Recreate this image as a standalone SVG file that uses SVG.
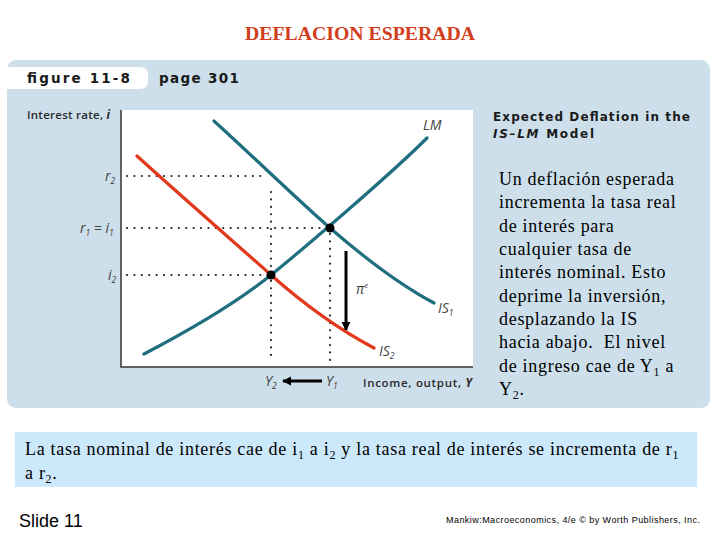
<svg xmlns="http://www.w3.org/2000/svg" width="720" height="540" viewBox="0 0 720 540">
<defs>
<style>
.curveT{fill:none;stroke:#1f6f80;stroke-width:3.2;stroke-linecap:round}
.curveR{fill:none;stroke:#e2391d;stroke-width:3.2;stroke-linecap:round}
.dot{fill:none;stroke:#222;stroke-width:2.1;stroke-dasharray:0.1 7.3;stroke-linecap:round}
.lab{font-family:"Open Sans","Liberation Sans",sans-serif;font-size:14px;font-style:italic;fill:#444}
.sub{font-size:8.5px}
.axl{font-family:"Open Sans","Liberation Sans",sans-serif;font-size:11.5px;font-weight:600;fill:#2a2a2a}
.tim{font-family:"Liberation Serif","Times New Roman",serif;font-size:18px;fill:#000;letter-spacing:0.7px}
.hd{font-family:"DejaVu Sans","Liberation Sans",sans-serif;font-weight:bold;fill:#1a1a1a}
</style>
<marker id="ah" viewBox="0 0 10 10" refX="9" refY="5" markerWidth="3" markerHeight="3.2" orient="auto" markerUnits="strokeWidth">
<path d="M0,0 L10,5 L0,10 Z" fill="#000"/>
</marker>
</defs>
<rect width="720" height="540" fill="#fff"/>
<text x="360" y="40" text-anchor="middle" font-family="Liberation Serif,'Times New Roman',serif" font-weight="bold" font-size="19" fill="#d23d1c" textLength="230" lengthAdjust="spacingAndGlyphs">DEFLACION ESPERADA</text>

<g id="panel">
<rect x="7" y="60" width="703" height="348" rx="9" fill="#cddfeb"/>
<path d="M7,67 H140 Q148,67 148,75 V81 Q148,89 140,89 H7 Z" fill="#fff"/>
<text class="hd" x="27" y="83" font-size="13.5" textLength="103" lengthAdjust="spacing">figure 11-8</text>
<text class="hd" x="159" y="83" font-size="13.5" textLength="80" lengthAdjust="spacing">page 301</text>
<rect x="121" y="110" width="352" height="257" fill="#fff"/>
<text class="hd" x="493" y="121" font-size="12" fill="#333" textLength="197" lengthAdjust="spacing">Expected Deflation in the</text>
<text class="hd" x="493" y="138" font-size="12" fill="#333" textLength="101" lengthAdjust="spacing"><tspan font-style="italic">IS–LM</tspan> Model</text>
</g>

<g id="axes">
<path d="M121,110 V367 H473" fill="none" stroke="#333" stroke-width="1.5"/>
<text class="axl" x="27" y="119" textLength="83">Interest rate, <tspan font-style="italic" font-weight="bold">i</tspan></text>
<text class="axl" x="363" y="387" textLength="109">Income, output, <tspan font-style="italic" font-weight="bold">Y</tspan></text>
</g>

<g id="guides">
<path class="dot" d="M127,176 H263"/>
<path class="dot" d="M127,228 H326"/>
<path class="dot" d="M127,275 H268"/>
<path class="dot" d="M271,192 V362"/>
<path class="dot" d="M330,234 V362"/>
</g>

<g id="LM">
<path class="curveT" d="M144,354 C190,330 240,300 271,275 S390,175 427,138"/>
<text class="lab" x="423" y="130">LM</text>
</g>
<g id="IS1">
<path class="curveT" d="M214,121 C260,163 300,202 330,228 S400,285 434,303"/>
<text class="lab" x="438" y="313">IS<tspan class="sub" dy="3">1</tspan></text>
</g>
<g id="IS2">
<path class="curveR" d="M137,156 C180,195 235,243 271,275 S340,330 374,348"/>
<text class="lab" x="379" y="356">IS<tspan class="sub" dy="3">2</tspan></text>
</g>

<g id="points">
<circle cx="330" cy="228" r="4.5" fill="#000"/>
<circle cx="271" cy="275" r="4.5" fill="#000"/>
</g>

<g id="connectors">
<line x1="346" y1="251" x2="346" y2="330" stroke="#000" stroke-width="3" marker-end="url(#ah)"/>
<line x1="322" y1="381" x2="283" y2="381" stroke="#000" stroke-width="3" marker-end="url(#ah)"/>
</g>

<g id="labels">
<text class="lab" x="356" y="294" font-size="14">π<tspan font-size="7" dy="-6">e</tspan></text>
<text class="lab" x="105" y="181">r<tspan class="sub" dy="3">2</tspan></text>
<text class="lab" x="80" y="233">r<tspan class="sub" dy="3">1</tspan><tspan dy="-3"> = i</tspan><tspan class="sub" dy="3">1</tspan></text>
<text class="lab" x="108" y="280">i<tspan class="sub" dy="3">2</tspan></text>
<text class="lab" x="265" y="386">Y<tspan class="sub" dy="3">2</tspan></text>
<text class="lab" x="326" y="386">Y<tspan class="sub" dy="3">1</tspan></text>
</g>

<g id="note">
<text class="tim" x="499" y="185">Un deflación esperada</text>
<text class="tim" x="499" y="208.3">incrementa la tasa real</text>
<text class="tim" x="499" y="231.7">de interés para</text>
<text class="tim" x="499" y="255">cualquier tasa de</text>
<text class="tim" x="499" y="278.3">interés nominal. Esto</text>
<text class="tim" x="499" y="301.7">deprime la inversión,</text>
<text class="tim" x="499" y="325">desplazando la IS</text>
<text class="tim" x="499" y="348.3" xml:space="preserve">hacia abajo.  El nivel</text>
<text class="tim" x="499" y="371.7" xml:space="preserve">de ingreso cae de Y<tspan font-size="12" dy="4">1</tspan><tspan dy="-4"> a</tspan></text>
<text class="tim" x="499" y="395">Y<tspan font-size="12" dy="4">2</tspan><tspan dy="-4">.</tspan></text>
</g>

<g id="summary">
<rect x="15" y="432" width="682" height="55" fill="#cce9fb"/>
<text class="tim" x="25" y="455">La tasa nominal de interés cae de i<tspan font-size="12" dy="4">1</tspan><tspan dy="-4"> a i</tspan><tspan font-size="12" dy="4">2</tspan><tspan dy="-4"> y la tasa real de interés se incrementa de r</tspan><tspan font-size="12" dy="4">1</tspan></text>
<text class="tim" x="25" y="479">a r<tspan font-size="12" dy="4">2</tspan><tspan dy="-4">.</tspan></text>
</g>

<g id="footer">
<text x="19" y="527" font-family="Liberation Sans,Arial,sans-serif" font-size="18" fill="#000">Slide 11</text>
<text x="446" y="523" font-family="Liberation Sans,Arial,sans-serif" font-size="9" fill="#000" textLength="254" lengthAdjust="spacing">Mankiw:Macroeconomics, 4/e © by Worth Publishers, Inc.</text>
</g>
</svg>
